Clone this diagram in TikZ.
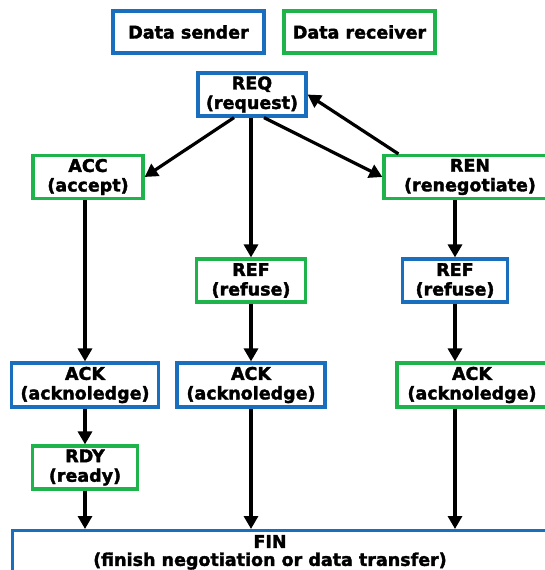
\documentclass[tikz,border=0pt]{standalone}
\usepackage{fontspec}
\setmainfont{DejaVu Sans}[BoldFeatures={FakeBold=2}]
\usetikzlibrary{arrows.meta,calc}
\definecolor{sendblue}{RGB}{25,110,190}
\definecolor{recvgreen}{RGB}{30,180,75}
\tikzset{
  box/.style={draw, line width=3.2pt, rectangle, inner sep=0pt, align=center,
    font=\fontsize{17.5}{19.5}\selectfont\bfseries, text=black},
  sender/.style={box, draw=sendblue},
  receiver/.style={box, draw=recvgreen},
  arr/.style={line width=3.2pt, -{Triangle[length=13pt,width=14pt]}},
}
\begin{document}
\begin{tikzpicture}[x=1pt,y=-1pt]
\useasboundingbox (0,0) rectangle (545,570);
\clip (0,0) rectangle (545,570);
\node[sender, minimum width=151pt, minimum height=42pt] (ls) at (188.5,32) {Data sender};
\node[receiver, minimum width=151pt, minimum height=42pt] (lr) at (359.5,32) {Data receiver};
\node[sender, minimum width=108pt, minimum height=43pt] (req) at (252,94.5) {REQ\\(request)};
\node[receiver, minimum width=110pt, minimum height=43pt] (acc) at (88,177) {ACC\\(accept)};
\node[receiver, minimum width=172pt, minimum height=43pt] (ren) at (470,177) {REN\\(renegotiate)};
\node[receiver, minimum width=109pt, minimum height=43pt] (refm) at (251,280.5) {REF\\(refuse)};
\node[sender, minimum width=105pt, minimum height=43pt] (refr) at (455,280.5) {REF\\(refuse)};
\node[sender, minimum width=147pt, minimum height=44pt] (ackl) at (85,385) {ACK\\(acknoledge)};
\node[sender, minimum width=148pt, minimum height=44pt] (ackm) at (251,385) {ACK\\(acknoledge)};
\node[receiver, minimum width=150pt, minimum height=44pt] (ackr) at (472,385) {ACK\\(acknoledge)};
\node[receiver, minimum width=105pt, minimum height=43pt] (rdy) at (85,467.5) {RDY\\(ready)};
\node[sender, minimum width=560pt, minimum height=44pt, anchor=north west] (finbox) at (11,529) {};
\node[box, draw=none, anchor=north, font=\fontsize{17.5}{18}\selectfont\bfseries] (fin) at (270,533.5)
  {FIN\\(finish negotiation or data transfer)};
% arrows
\draw[arr] ($(req.south)+(-18,0)$) -- (acc.east);
\draw[arr] (req.south -| refm) -- (refm.north);
\draw[arr] ($(req.south)+(12,0)$) -- (ren.west);
\draw[arr] ($(ren.north west)+(16,0)$) -- (req.east);
\draw[arr] (acc.south -| ackl) -- (ackl.north);
\draw[arr] (ren.south -| refr) -- (refr.north);
\draw[arr] (refm.south) -- (ackm.north -| refm);
\draw[arr] (refr.south) -- (ackr.north -| refr);
\draw[arr] (ackl.south) -- (rdy.north);
\draw[arr] (rdy.south) -- (finbox.north -| rdy);
\draw[arr] (ackm.south) -- (finbox.north -| ackm);
\draw[arr] (ackr.south -| refr) -- (finbox.north -| refr);
\end{tikzpicture}
\end{document}
